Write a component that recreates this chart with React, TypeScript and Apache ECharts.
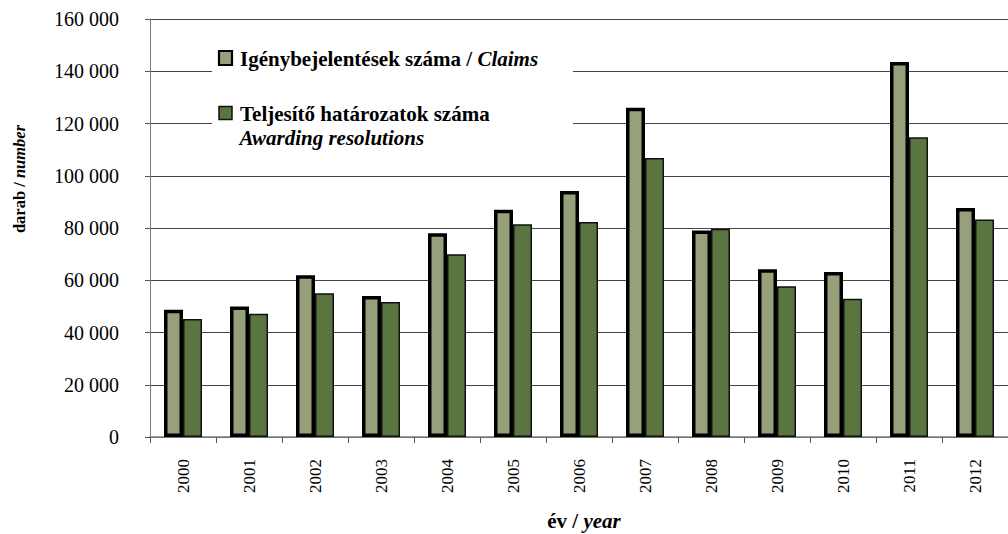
import React, { useEffect, useRef } from "react";
import * as echarts from "echarts";

const years = ["2000", "2001", "2002", "2003", "2004", "2005", "2006", "2007", "2008", "2009", "2010", "2011", "2012"];
const claims = [48700, 50000, 61900, 54000, 78000, 87000, 94200, 126000, 79000, 64200, 63200, 143500, 87700];
const awarding = [45200, 47200, 55000, 51700, 70000, 81400, 82300, 106800, 79700, 57700, 52900, 114700, 83300];
const seriesNames = ["Igénybejelentések száma / Claims", "Teljesítő határozatok száma / Awarding resolutions"];
const yMin = 0;
const yMax = 160000;
const yStep = 20000;

const LIGHT = "#96a07a";
const DARK = "#5b7541";
const SERIF = "Liberation Serif";

const fmt = (v: number) => String(v).replace(/\B(?=(\d{3})+(?!\d))/g, " ");

const richFor = (size: number) => ({
  b: { fontFamily: SERIF, fontSize: size, fontWeight: "bold", fill: "#000" },
  i: { fontFamily: SERIF, fontSize: size, fontWeight: "bold", fontStyle: "italic", fill: "#000" },
});

export default function App() {
  const ref = useRef<HTMLDivElement>(null);
  useEffect(() => {
    if (!ref.current) return;
    const chart = echarts.init(ref.current, null, { renderer: "svg" });
    chart.setOption({
      animation: false,
      backgroundColor: "#fff",
      textStyle: { fontFamily: SERIF },
      grid: { left: 150, right: -7, top: 19, bottom: 97, containLabel: false },
      xAxis: {
        type: "category",
        data: years,
        axisLine: { show: true, lineStyle: { color: "#808080", width: 1.5 } },
        axisTick: { show: true, length: 6, lineStyle: { color: "#555" } },
        axisLabel: { rotate: 90, margin: 22, fontFamily: SERIF, fontSize: 17, color: "#000" },
      },
      yAxis: {
        type: "value",
        min: yMin,
        max: yMax,
        interval: yStep,
        axisLine: { show: true, lineStyle: { color: "#777", width: 1 } },
        axisTick: { show: true, length: 5, inside: false, lineStyle: { color: "#555" } },
        axisLabel: { margin: 31, fontFamily: SERIF, fontSize: 20, color: "#000", formatter: (v: number) => fmt(v) },
        splitLine: { show: true, lineStyle: { color: "#444", width: 1 } },
      },
      series: [
        {
          name: seriesNames[0],
          type: "bar",
          data: claims,
          barWidth: 19,
          barGap: "0%",
          itemStyle: { color: LIGHT, borderColor: "#000", borderWidth: 3.5 },
        },
        {
          name: seriesNames[1],
          type: "bar",
          data: awarding,
          barWidth: 19,
          barGap: "0%",
          itemStyle: { color: DARK, borderColor: "#111", borderWidth: 1.5 },
        },
      ],
      graphic: [
        {
          type: "rect",
          z: 100,
          shape: { x: 212, y: 38, width: 361, height: 120 },
          style: { fill: "#fff" },
        },
        {
          type: "rect",
          z: 101,
          shape: { x: 219, y: 51, width: 13, height: 14 },
          style: { fill: LIGHT, stroke: "#000", lineWidth: 2.2 },
        },
        {
          type: "rect",
          z: 101,
          shape: { x: 219, y: 106.5, width: 13, height: 13 },
          style: { fill: DARK, stroke: "#111", lineWidth: 1.5 },
        },
        {
          type: "text",
          z: 101,
          x: 240,
          y: 58.5,
          style: {
            text: "{b|Igénybejelentések száma / }{i|Claims}",
            align: "left",
            verticalAlign: "middle",
            fill: "#000",
            rich: richFor(21),
          },
        },
        {
          type: "text",
          z: 101,
          x: 240,
          y: 113.5,
          style: {
            text: "Teljesítő határozatok száma",
            align: "left",
            verticalAlign: "middle",
            fill: "#000",
            fontFamily: SERIF,
            fontSize: 21,
            fontWeight: "bold",
          },
        },
        {
          type: "text",
          z: 101,
          x: 239.5,
          y: 137.5,
          style: {
            text: "Awarding resolutions",
            align: "left",
            verticalAlign: "middle",
            fill: "#000",
            fontFamily: SERIF,
            fontSize: 21,
            fontWeight: "bold",
            fontStyle: "italic",
          },
        },
        {
          type: "text",
          z: 101,
          x: 19,
          y: 179,
          rotation: Math.PI / 2,
          style: {
            text: "{b|darab / }{i|number}",
            align: "center",
            verticalAlign: "middle",
            fill: "#000",
            rich: richFor(16.5),
          },
        },
        {
          type: "text",
          z: 101,
          x: 584,
          y: 521,
          style: {
            text: "{b|év / }{i|year}",
            align: "center",
            verticalAlign: "middle",
            fill: "#000",
            rich: richFor(21),
          },
        },
      ],
    });
    return () => chart.dispose();
  }, []);
  return <div ref={ref} style={{ width: 1008, height: 534, position: "absolute", left: 0, top: 0 }} />;
}
